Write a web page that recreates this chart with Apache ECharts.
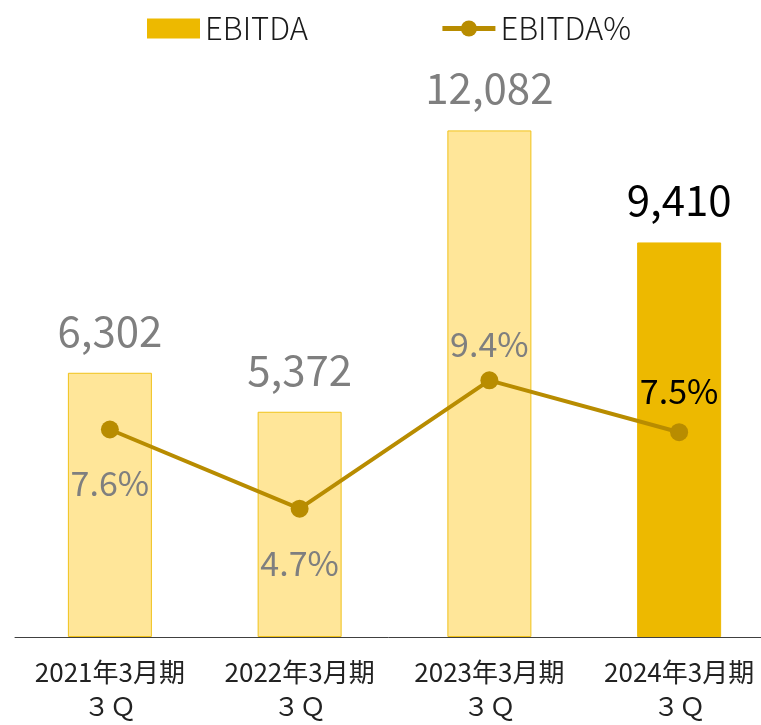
<!DOCTYPE html>
<html>
<head>
<meta charset="utf-8">
<script src="https://cdn.jsdelivr.net/npm/echarts@6/dist/echarts.min.js"></script>
<style>html,body{margin:0;padding:0;background:#fff;}#c{width:761px;height:725px;}</style>
</head>
<body>
<div id="c"></div>
<script>
const categories = ['2021年3月期\n３Ｑ', '2022年3月期\n３Ｑ', '2023年3月期\n３Ｑ', '2024年3月期\n３Ｑ'];
const ebitda = [6302, 5372, 12082, 9410];
const ebitdaPct = [7.6, 4.7, 9.4, 7.5];
const pctLabelPos = ['bottom', 'bottom', 'top', 'top'];

const FONT = '"Noto Sans CJK JP", "Noto Sans", sans-serif';
const last = categories.length - 1;

const barData = ebitda.map((v, i) => ({
  value: v,
  itemStyle: i === last
    ? { color: '#EDB900', borderColor: '#EDB900', borderWidth: 1 }
    : { color: '#FFE699', borderColor: '#F0C21A', borderWidth: 1 },
  label: { color: i === last ? '#000000' : '#7F7F7F' }
}));
const lineData = ebitdaPct.map((v, i) => ({
  value: v,
  label: {
    position: pctLabelPos[i],
    distance: pctLabelPos[i] === 'top' ? (i === last ? 15 : 10) : 28,
    color: i === last ? '#000000' : '#7F7F7F'
  }
}));

const chart = echarts.init(document.getElementById('c'), null, { renderer: 'canvas' });
chart.setOption({
  animation: false,
  textStyle: { fontFamily: FONT },
  legend: {
    top: 8,
    left: 142,
    itemWidth: 53,
    itemHeight: 20,
    itemGap: 132,
    textStyle: { fontFamily: FONT, fontSize: 31, color: '#1a1a1a', fontWeight: 300 },
    data: [
      { name: 'EBITDA', icon: 'rect', itemStyle: { color: '#EDB900', borderWidth: 0 } },
      { name: 'EBITDA%', lineStyle: { width: 5 } }
    ]
  },
  grid: { left: 15, width: 759, top: 50, bottom: 88, containLabel: false, outerBoundsMode: 'none' },
  xAxis: {
    type: 'category',
    data: categories,
    axisLine: { lineStyle: { color: '#404040', width: 1 } },
    axisTick: { show: false },
    axisLabel: { interval: 0, hideOverlap: false, fontFamily: FONT, fontSize: 26, lineHeight: 34, color: '#222222', margin: 18 }
  },
  yAxis: [
    { type: 'value', min: 0, max: 14000, show: false, splitLine: { show: false } },
    { type: 'value', min: 0, max: 21.5, show: false, splitLine: { show: false } }
  ],
  series: [
    {
      name: 'EBITDA',
      type: 'bar',
      yAxisIndex: 0,
      barWidth: 84,
      data: barData,
      label: {
        show: true,
        position: 'top',
        distance: 21,
        fontFamily: FONT,
        fontSize: 42,
        formatter: p => p.value.toLocaleString('en-US')
      }
    },
    {
      name: 'EBITDA%',
      type: 'line',
      yAxisIndex: 1,
      data: lineData,
      symbol: 'circle',
      symbolSize: 18,
      itemStyle: { color: '#B88C00' },
      lineStyle: { color: '#B88C00', width: 4 },
      label: {
        show: true,
        fontFamily: FONT,
        fontSize: 34,
        formatter: p => p.value.toFixed(1) + '%'
      },
      z: 5
    }
  ]
});
</script>
</body>
</html>
